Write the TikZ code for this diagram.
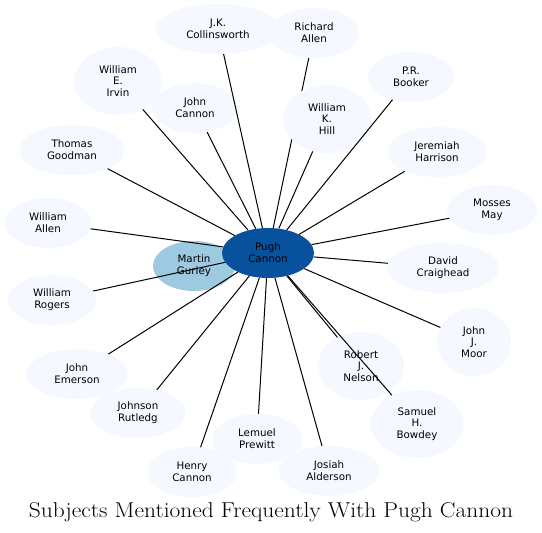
\documentclass[tikz,border=0pt]{standalone}
\usepackage{fontspec}
\newfontfamily\namefont{DejaVu Sans}
\usetikzlibrary{shapes.geometric}
\definecolor{paleblue}{HTML}{F5F9FF}
\definecolor{midblue}{HTML}{9ECAE1}
\definecolor{deepblue}{HTML}{08519C}
\pgfdeclarelayer{back}
\pgfsetlayers{back,main}
\tikzset{
 subject/.style={ellipse,fill=paleblue,inner sep=0pt,minimum height=50pt,align=center,
  font=\namefont\fontsize{10.3}{11.8}\selectfont},
 tall/.style={minimum height=68pt},
 link/.style={black,line width=1pt}
}
\begin{document}
\begin{tikzpicture}[x=1pt,y=-1pt]
 \useasboundingbox (0,0) rectangle (542,533);
 \node[subject,minimum width=124pt] (jkc) at (218,29) {J.K.\\Collinsworth};
 \node[subject,minimum width=90pt] (rallen) at (314,33) {Richard\\Allen};
 \node[subject,tall,minimum width=88pt] (weirvin) at (118,81) {William\\E.\\Irvin};
 \node[subject,minimum width=86pt] (jcannon) at (195,108) {John\\Cannon};
 \node[subject,minimum width=106pt] (tgoodman) at (72,150) {Thomas\\Goodman};
 \node[subject,minimum width=86pt] (prbooker) at (411,77) {P.R.\\Booker};
 \node[subject,tall,minimum width=88pt] (wkhill) at (327,119) {William\\K.\\Hill};
 \node[subject,minimum width=100pt] (jharrison) at (437,152) {Jeremiah\\Harrison};
 \node[subject,minimum width=90pt] (mmay) at (492,210) {Mosses\\May};
 \node[subject,minimum width=87pt] (wallen) at (48,223) {William\\Allen};
 \node[subject,minimum width=112pt] (dcraighead) at (443,268) {David\\Craighead};
 \node[subject,fill=midblue,minimum width=82pt] (mgurley) at (194,266) {Martin\\Gurley};
 \node[subject,fill=deepblue,minimum width=92pt] (pugh) at (268,253) {Pugh\\Cannon};
 \node[subject,minimum width=88pt] (wrogers) at (52,300) {William\\Rogers};
 \node[subject,tall,minimum width=74pt] (jjmoor) at (474,342) {John\\J.\\Moor};
 \node[subject,tall,minimum width=86pt] (rjnelson) at (361,366) {Robert\\J.\\Nelson};
 \node[subject,tall,minimum width=93pt] (shbowdey) at (417,424) {Samuel\\H.\\Bowdey};
 \node[subject,minimum width=90pt] (lprewitt) at (257,439) {Lemuel\\Prewitt};
 \node[subject,minimum width=101pt] (jalderson) at (329,471) {Josiah\\Alderson};
 \node[subject,minimum width=90pt] (hcannon) at (192,472) {Henry\\Cannon};
 \node[subject,minimum width=95pt] (jrutledg) at (138,413) {Johnson\\Rutledg};
 \node[subject,minimum width=101pt] (jemerson) at (77,374) {John\\Emerson};
 \begin{pgfonlayer}{back}
 \draw[link] (pugh) -- (rallen);
 \end{pgfonlayer}
 \draw[link] (pugh) -- (jkc);
 \draw[link] (pugh) -- (weirvin);
 \draw[link] (pugh) -- (jcannon);
 \draw[link] (pugh) -- (tgoodman);
 \draw[link] (pugh) -- (prbooker);
 \draw[link] (pugh) -- (wkhill);
 \draw[link] (pugh) -- (jharrison);
 \draw[link] (pugh) -- (mmay);
 \draw[link] (pugh) -- (wallen);
 \draw[link] (pugh) -- (dcraighead);
 \draw[link] (pugh) -- (wrogers);
 \draw[link] (pugh) -- (jjmoor);
 \draw[link] (pugh) -- (rjnelson);
 \draw[link] (pugh) -- (shbowdey);
 \draw[link] (pugh) -- (lprewitt);
 \draw[link] (pugh) -- (jalderson);
 \draw[link] (pugh) -- (hcannon);
 \draw[link] (pugh) -- (jrutledg);
 \draw[link] (pugh) -- (jemerson);
 \node[anchor=base,font=\fontsize{21.5}{24}\selectfont] (title) at (271,517) {\scalebox{1.09}[1]{Subjects Mentioned Frequently With Pugh Cannon}};
\end{tikzpicture}
\end{document}
